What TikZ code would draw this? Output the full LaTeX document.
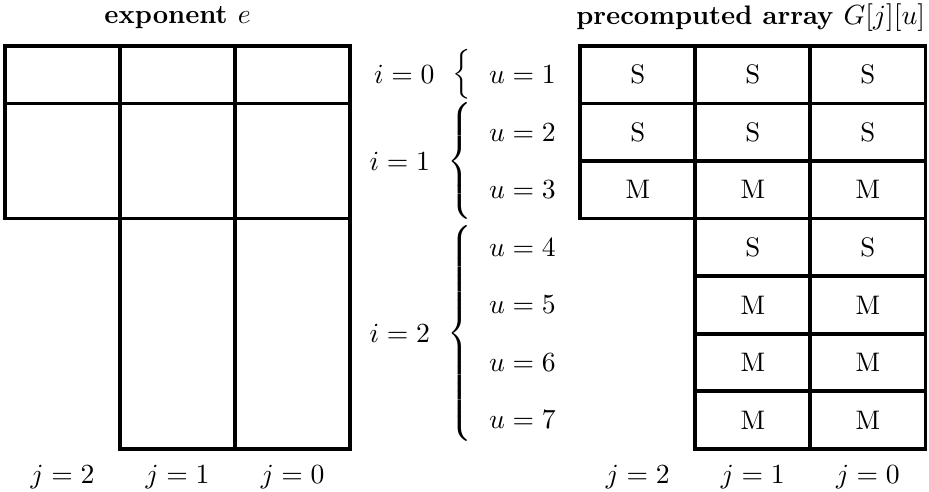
\documentclass[tikz,border=0pt]{standalone}
\usepackage{amsmath}
\usetikzlibrary{positioning}

\begin{document}
\begin{tikzpicture}[
  font=\fontsize{10.6}{12.7}\selectfont,
  cell/.style  ={draw, line width=1.5pt, minimum width=16mm, minimum height=8mm,
                 inner sep=0pt, outer sep=0pt},
  tall/.style  ={cell, minimum height=16mm},
  taller/.style={cell, minimum height=32mm},
  ttl/.style   ={font=\fontsize{10.6}{12.7}\selectfont\bfseries},
  lbl/.style   ={inner sep=1pt},
  brc/.style   ={inner sep=0pt},
]
\useasboundingbox (0,0) rectangle (12.92,-6.83);

% exponent e
\node[cell] (e02) at (0.87,-1.04) {};
\node[cell, right=0pt of e02] (e01) {};
\node[cell, right=0pt of e01] (e00) {};
\node[tall, below=0pt of e02] (e12) {};
\node[tall, below=0pt of e01] (e11) {};
\node[tall, below=0pt of e00] (e10) {};
\node[taller, below=0pt of e11] (e21) {};
\node[taller, below=0pt of e10] (e20) {};

% precomputed array G[j][u]
\node[cell] (g12) at (8.87,-1.04) {S};
\node[cell, right=0pt of g12] (g11) {S};
\node[cell, right=0pt of g11] (g10) {S};
\node[cell, below=0pt of g12] (g22) {S};
\node[cell, below=0pt of g11] (g21) {S};
\node[cell, below=0pt of g10] (g20) {S};
\node[cell, below=0pt of g22] (g32) {M};
\node[cell, below=0pt of g21] (g31) {M};
\node[cell, below=0pt of g20] (g30) {M};
\node[cell, below=0pt of g31] (g41) {S};
\node[cell, below=0pt of g30] (g40) {S};
\node[cell, below=0pt of g41] (g51) {M};
\node[cell, below=0pt of g40] (g50) {M};
\node[cell, below=0pt of g51] (g61) {M};
\node[cell, below=0pt of g50] (g60) {M};
\node[cell, below=0pt of g61] (g71) {M};
\node[cell, below=0pt of g60] (g70) {M};

% titles
\node[ttl] (etitle) at (2.47,-0.24) {exponent $e$};
\node[ttl] (gtitle) at (10.44,-0.24) {precomputed array $G[j][u]$};

% column labels
\node[lbl] (ej2) at (0.87,-6.63) {$j=2$};
\node[lbl] (ej1) at (2.47,-6.63) {$j=1$};
\node[lbl] (ej0) at (4.07,-6.63) {$j=0$};
\node[lbl] (gj2) at (8.87,-6.63) {$j=2$};
\node[lbl] (gj1) at (10.47,-6.63) {$j=1$};
\node[lbl] (gj0) at (12.07,-6.63) {$j=0$};

% rows u, grouped by i
\node[lbl, left=3mm of g12] (u1) {$u=1$};
\node[lbl, left=3mm of g22] (u2) {$u=2$};
\node[lbl, left=3mm of g32] (u3) {$u=3$};
\node[lbl] (u4) at (u3 |- g41) {$u=4$};
\node[lbl] (u5) at (u3 |- g51) {$u=5$};
\node[lbl] (u6) at (u3 |- g61) {$u=6$};
\node[lbl] (u7) at (u3 |- g71) {$u=7$};

\node[brc] (b0) at (6.42,-1.04) {$\Big\{$};
\node[brc] (b1) at (6.42,-2.24) {$\left\{\vcenter{\hbox{\rule{0pt}{44pt}}}\right.$};
\node[brc] (b2) at (6.42,-4.64) {$\left\{\vcenter{\hbox{\rule{0pt}{88pt}}}\right.$};

\node[lbl, left=2mm of b0] (i0) {$i=0$};
\node[lbl, left=2mm of b1] (i1) {$i=1$};
\node[lbl, left=2mm of b2] (i2) {$i=2$};

\end{tikzpicture}
\end{document}
